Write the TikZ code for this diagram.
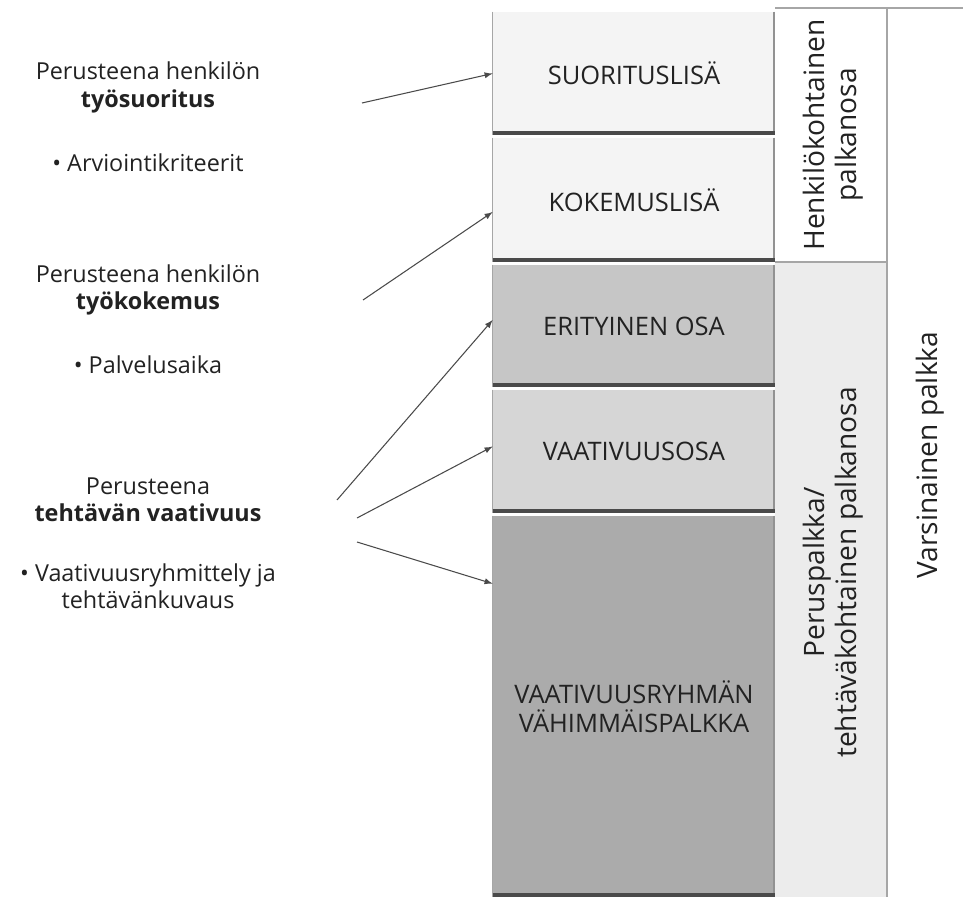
\documentclass[tikz,border=0pt]{standalone}
\usepackage{fontspec}
\setmainfont{Open Sans}
\usetikzlibrary{arrows, calc}

\definecolor{vaalea}{HTML}{F4F4F4}
\definecolor{keski}{HTML}{C6C6C6}
\definecolor{haalea}{HTML}{D6D6D6}
\definecolor{tumma}{HTML}{ABABAB}
\definecolor{varjo}{HTML}{4A4A4A}
\definecolor{sarakeharmaa}{HTML}{ECECEC}
\definecolor{teksti}{HTML}{222222}

\tikzset{
>=latex,
palkkaosa/.style={minimum width=5.64cm, inner sep=0pt, align=center, text=teksti,
  font=\fontsize{14.5}{16.5}\selectfont},
peruste/.style={align=center, text=teksti, font=\fontsize{13.3}{15.5}\selectfont},
nuoli/.style={->, draw=varjo, line width=0.6pt},
sarake/.style={rotate=90, align=center, text=teksti, font=\fontsize{16}{18.5}\selectfont},
raja/.style={draw=gray!70, line width=0.6pt}
}

\begin{document}
\begin{tikzpicture}
 \useasboundingbox[fill=white] (0,0) rectangle (19.26,-18.02);
 % palkan osat
 \node[palkkaosa, fill=vaalea, minimum height=2.46cm] (suoritus) at (12.68,-1.47) {SUORITUSLISÄ};
 \node[palkkaosa, fill=vaalea, minimum height=2.48cm] (kokemus) at (12.68,-4.0) {KOKEMUSLISÄ};
 \node[palkkaosa, fill=keski, minimum height=2.44cm] (erityinen) at (12.68,-6.52) {ERITYINEN OSA};
 \node[palkkaosa, fill=haalea, minimum height=2.46cm] (vaativuus) at (12.68,-9.03) {VAATIVUUSOSA};
 \node[palkkaosa, fill=tumma, minimum height=7.62cm] (vahimmais) at (12.68,-14.13) {VAATIVUUSRYHMÄN\\VÄHIMMÄISPALKKA};
 \foreach \osa in {suoritus,kokemus,erityinen,vaativuus,vahimmais}{
  \draw[raja] (\osa.north west) -- (\osa.south west);
  \draw[line width=1.6pt, draw=varjo!60] ([xshift=-0.8pt]\osa.north east) -- ([xshift=-0.8pt]\osa.south east);
  \draw[line width=2.4pt, draw=varjo] ([yshift=1.2pt]\osa.south west) -- ([yshift=1.2pt]\osa.south east);
 }
 % sarakkeet
 \fill[sarakeharmaa] (15.5,-5.24) rectangle (17.74,-17.94);
 \draw[raja] (15.5,-0.16) -- (19.26,-0.16);
 \draw[raja] (17.74,-0.16) -- (17.74,-17.94);
 \draw[raja] (15.5,-5.24) -- (17.74,-5.24);
 \node[sarake] (henkilo) at (16.66,-2.7) {Henkilökohtainen\\palkanosa};
 \node[sarake] (peruspalkka) at (16.66,-11.45) {Peruspalkka/\\tehtäväkohtainen palkanosa};
 \node[sarake] (varsinainen) at (18.6,-9.1) {Varsinainen palkka};
 % perusteet
 \node[peruste] (tyosuoritus) at (2.96,-1.75) {Perusteena henkilön\\\textbf{työsuoritus}};
 \node[peruste] (arviointi) at (2.96,-3.26) {\textbullet\ Arviointikriteerit};
 \node[peruste] (tyokokemus) at (2.96,-5.8) {Perusteena henkilön\\\textbf{työkokemus}};
 \node[peruste] (palvelus) at (2.96,-7.3) {\textbullet\ Palvelusaika};
 \node[peruste] (tehtava) at (2.96,-9.99) {Perusteena\\\textbf{tehtävän vaativuus}};
 \node[peruste] (ryhmittely) at (2.96,-11.73) {\textbullet\ Vaativuusryhmittely ja\\tehtävänkuvaus};
 % nuolet
 \coordinate (n1) at (7.24,-2.06);
 \coordinate (n2) at (7.26,-6.0);
 \coordinate (n3) at (6.74,-10.0);
 \coordinate (n4) at (7.14,-10.36);
 \coordinate (n5) at (7.14,-10.84);
 \draw[nuoli] (n1) -- (suoritus.west);
 \draw[nuoli] (n2) -- ([yshift=-0.24cm]kokemus.west);
 \draw[nuoli] (n3) -- ([yshift=0.12cm]erityinen.west);
 \draw[nuoli] (n4) -- ([yshift=0.1cm]vaativuus.west);
 \draw[nuoli] (n5) -- ([yshift=-1.36cm]vahimmais.north west);
\end{tikzpicture}
\end{document}
